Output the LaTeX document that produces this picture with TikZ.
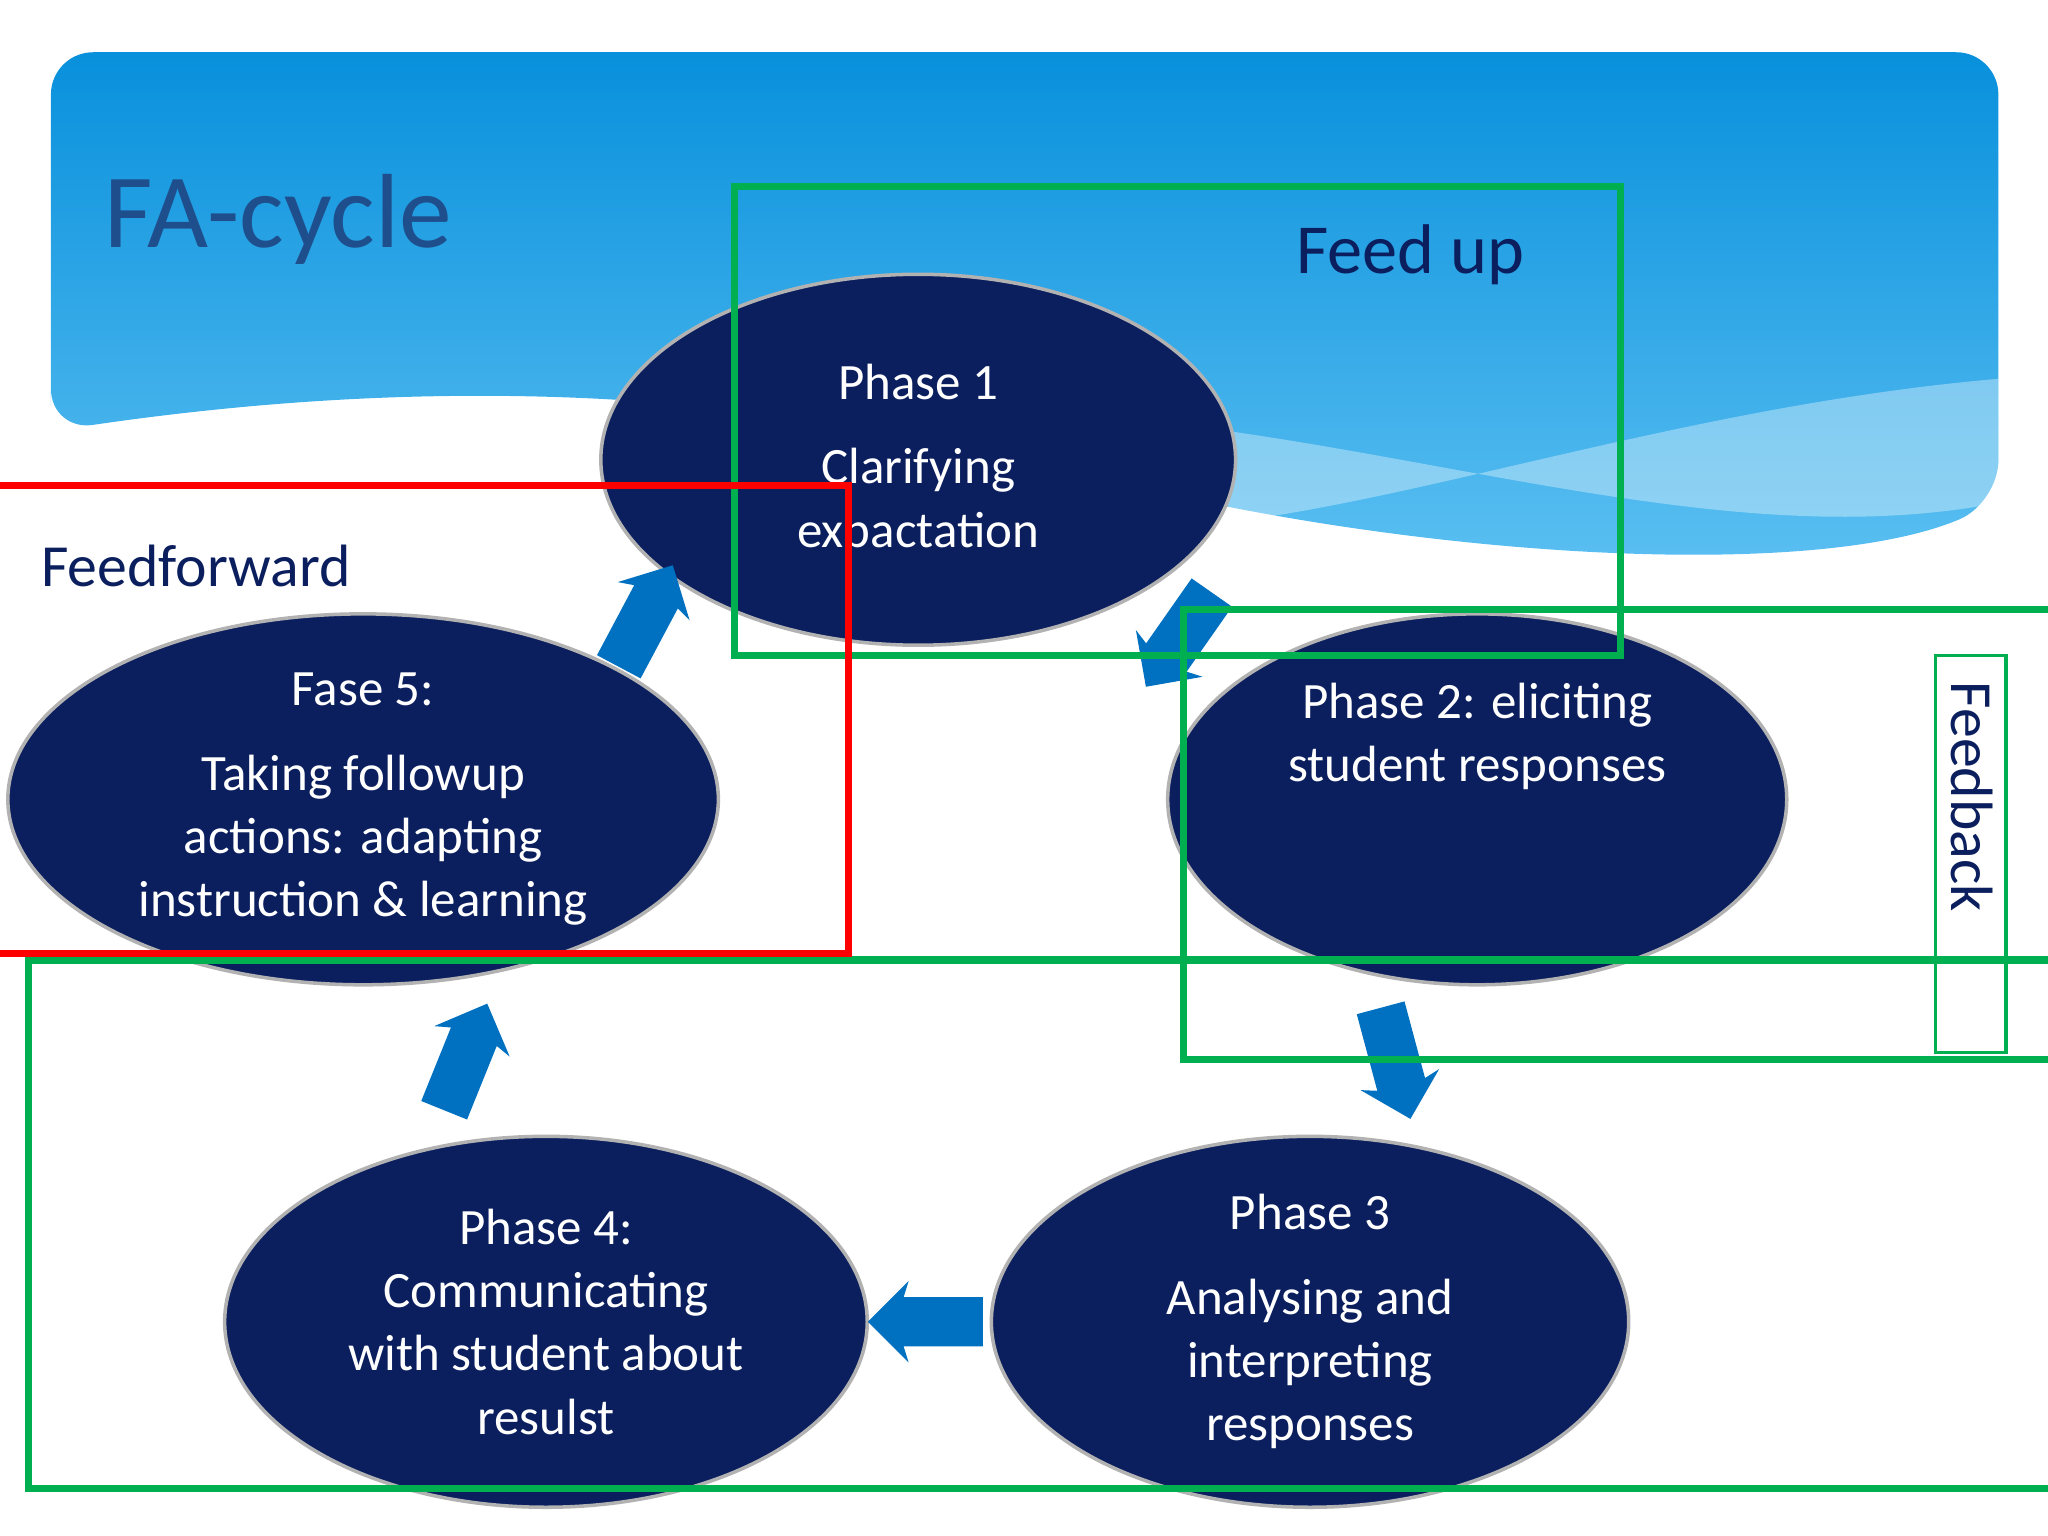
\documentclass[tikz,border=0pt]{standalone}
\usepackage{fontspec}
\setmainfont{Carlito}
\usetikzlibrary{shapes.arrows}
\usetikzlibrary{shapes.geometric}
\definecolor{navy}{HTML}{0B1F5E}
\definecolor{arrowblue}{HTML}{0070C0}
\definecolor{skytop}{HTML}{0890DC}
\definecolor{skylow}{HTML}{5CC0F2}
\definecolor{boxgreen}{HTML}{00B050}
\definecolor{titleblue}{HTML}{1F4E8C}
\newdimen\pxu
\pxu=0.013061cm
\tikzset{
  phase/.style={ellipse, fill=navy, draw=gray!60, line width=1pt, text=white,
    align=center, font=\fontsize{14.5}{18}\selectfont, inner sep=0pt},
  cyc/.style={single arrow, fill=arrowblue, minimum height=1.15cm, inner sep=0.24cm,
    single arrow head extend=0.16cm, single arrow head indent=0.05cm},
  zone/.style={draw=#1, line width=2pt},
  lbl/.style={text=navy, font=\fontsize{17}{20}\selectfont}
}
\begin{document}
\begin{tikzpicture}[x=0.013061cm, y=-0.013061cm]
  \useasboundingbox (0,0) rectangle (1568,1176);
  % sky
  \shade[top color=skytop, bottom color=skylow, rounded corners=12pt]
    (39,330) -- (39,40) -- (1530,40) -- (1530,385)
    .. controls (1400,440) and (1150,430) .. (900,380)
    .. controls (700,330) and (450,270) .. (39,330) -- cycle;
  \fill[white, opacity=0.35] (940,330) .. controls (1150,360) and (1350,420) .. (1530,385)
    -- (1530,290) .. controls (1300,310) and (1100,380) .. (940,400) -- cycle;
  % phases
  \node[phase, minimum width=486\pxu, minimum height=284\pxu] (p1) at (703,352)
    {Phase 1\\[6pt] Clarifying\\ expactation};
  \node[phase, minimum width=474\pxu, minimum height=284\pxu] (p2) at (1131,612)
    {Phase 2: eliciting\\ student responses\\[20pt]};
  \node[phase, minimum width=488\pxu, minimum height=284\pxu] (p3) at (1003,1012)
    {Phase 3\\[6pt] Analysing and\\ interpreting\\ responses};
  \node[phase, minimum width=492\pxu, minimum height=284\pxu] (p4) at (418,1012)
    {Phase 4:\\ Communicating\\ with student about\\ resulst};
  \node[phase, minimum width=544\pxu, minimum height=284\pxu] (p5) at (278,612)
    {Fase 5:\\[6pt] Taking followup\\ actions: adapting\\ instruction \& learning};
  % cycle arrows
  \node[cyc, rotate=62] (a51) at (490,480) {};
  \node[cyc, rotate=-125] (a12) at (908,482) {};
  \node[cyc, rotate=-75] (a23) at (1066,805) {};
  \node[cyc, rotate=180] (a34) at (718,1012) {};
  \node[cyc, rotate=68] (a45) at (353,818) {};
  % zones
  \draw[zone=boxgreen] (562,143) rectangle (1241,502);
  \draw[zone=boxgreen] (906,467) rectangle (1580,811);
  \draw[zone=boxgreen] (22,735) rectangle (1580,1140);
  \draw[zone=red] (-10,372) rectangle (650,730);
  \draw[draw=boxgreen, line width=1pt] (1482,502) rectangle (1536,806);
  % labels
  \node[text=titleblue, font=\fontsize{30}{34}\selectfont] (title) at (213,168) {FA-cycle};
  \node[lbl, font=\fontsize{20}{24}\selectfont] (fup) at (1080,195) {Feed up};
  \node[lbl] (ffw) at (150,433) {Feedforward};
  \node[lbl, rotate=-90] (fbk) at (1510,610) {Feedback};
\end{tikzpicture}
\end{document}
